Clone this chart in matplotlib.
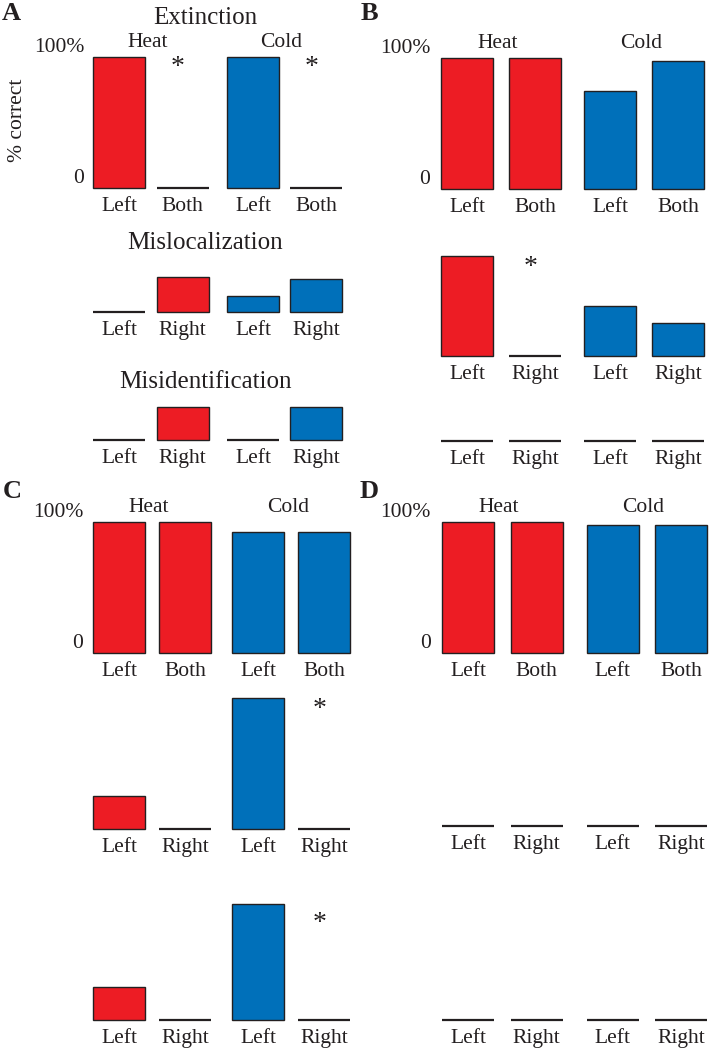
import matplotlib
matplotlib.use("Agg")
import matplotlib.pyplot as plt

# ---------------- data ----------------
groups = ["Heat", "Cold"]
row_titles = ["Extinction", "Mislocalization", "Misidentification"]
labels_extinction = ["Left", "Both", "Left", "Both"]
labels_error = ["Left", "Right", "Left", "Right"]
y_tick_values = [0, 100]
y_tick_labels = ["0", "100%"]
y_label = "% correct"

A_extinction = [100, 0, 100, 0]
A_mislocalization = [0, 26, 12, 25]
A_misidentification = [0, 25, 0, 25]

B_extinction = [100, 100, 75, 98]
B_mislocalization = [76, 0, 38, 25]
B_misidentification = [0, 0, 0, 0]

C_extinction = [100, 100, 92, 92]
C_mislocalization = [25, 0, 100, 0]
C_misidentification = [25, 0, 88, 0]

D_extinction = [100, 100, 98, 98]
D_mislocalization = [0, 0, 0, 0]
D_misidentification = [0, 0, 0, 0]

# significance markers: (panel, row, bar index, height in %)
stars = [("A", 0, 1, 92), ("A", 0, 3, 92),
         ("B", 1, 1, 67),
         ("C", 1, 3, 91), ("C", 2, 3, 73)]

# ---------------- style / layout ----------------
RED = "#ED1C24"
BLUE = "#0070BA"
INK = "#231F20"
bar_colors = [RED, RED, BLUE, BLUE]
FONT = "Liberation Serif"
FS = 15.5

plt.rcParams["font.family"] = [FONT, "DejaVu Serif"]

W, H = 709, 1050
fig = plt.figure(figsize=(W / 100, H / 100), dpi=100)

GAP = 0.11
positions = [0, 1, 2 + GAP, 3 + GAP]
BAR_PX = 52
FULL_PX = 131  # pixels for 100 %

panels = {
    "A": dict(c0=119, unit=63.5, base=[188, 311.5, 439.5],
              data=[A_extinction, A_mislocalization, A_misidentification],
              letter_xy=(11, 14)),
    "B": dict(c0=467, unit=68.0, base=[189, 355.5, 441],
              data=[B_extinction, B_mislocalization, B_misidentification],
              letter_xy=(369, 14)),
    "C": dict(c0=119, unit=66.0, base=[653, 829, 1019.5],
              data=[C_extinction, C_mislocalization, C_misidentification],
              letter_xy=(12, 491)),
    "D": dict(c0=468, unit=68.5, base=[653, 826, 1020],
              data=[D_extinction, D_mislocalization, D_misidentification],
              letter_xy=(369, 491)),
}

axes = {}
for name, p in panels.items():
    unit = p["unit"]
    left_px = p["c0"] - 0.5 * unit
    width_px = (4 + GAP) * unit
    for r, (base, vals) in enumerate(zip(p["base"], p["data"])):
        ax = fig.add_axes([left_px / W, 1 - base / H, width_px / W, FULL_PX / H])
        ax.set_xlim(-0.5, 3.5 + GAP)
        ax.set_ylim(0, 100)
        lws = [1.6 if v == 0 else 1.0 for v in vals]
        ax.bar(positions, vals, width=BAR_PX / unit, color=bar_colors,
               edgecolor=INK, linewidth=lws, clip_on=False)
        for s in ax.spines.values():
            s.set_visible(False)
        ax.set_xticks(positions)
        ax.set_xticklabels(labels_extinction if r == 0 else labels_error,
                           fontsize=FS, color=INK)
        ax.tick_params(axis="x", length=0, pad=6.5)
        if r == 0:
            ax.set_yticks(y_tick_values)
            ax.set_yticklabels(y_tick_labels, fontsize=FS, color=INK)
            for lab in ax.get_yticklabels():
                lab.set_va("bottom")
            ax.tick_params(axis="y", length=0, pad=2)
            for g, grp in enumerate(groups):
                xc = (positions[2 * g] + positions[2 * g + 1]) / 2
                ax.text(xc - 0.05, 111, grp, ha="center", va="center",
                        fontsize=FS, color=INK)
        else:
            ax.set_yticks([])
        ax.patch.set_visible(False)
        axes[(name, r)] = ax
    fig.text(p["letter_xy"][0] / W, 1 - p["letter_xy"][1] / H, name,
             fontsize=19, fontweight="bold", ha="center", va="center",
             color=INK)

for name, r, idx, yv in stars:
    ax = axes[(name, r)]
    ax.text(positions[idx] - 0.07, yv, "*", ha="center", va="center",
            fontsize=20, color=INK)

# row titles (panel A)
title_y = [18, 243, 382]
for t, yp in zip(row_titles, title_y):
    fig.text(205 / W, 1 - yp / H, t, ha="center", va="center",
             fontsize=18, color=INK)

fig.text(17 / W, 1 - 120 / H, y_label, rotation=90, ha="center",
         va="center", fontsize=FS, color=INK)

fig.savefig("out.png", dpi=100, facecolor="white")
